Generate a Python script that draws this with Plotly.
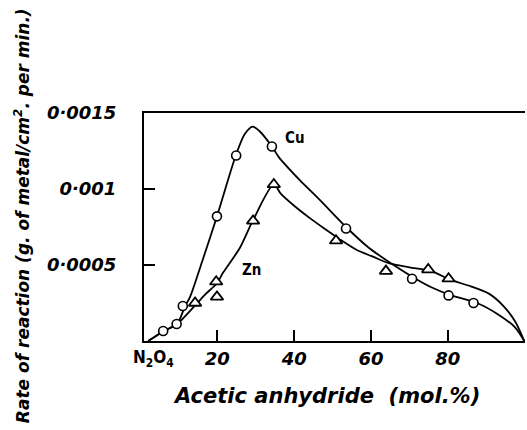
import plotly.graph_objects as go

# Measured points (Cu: circles, Zn: triangles)
cu_x = [5.9, 9.4, 11.0, 19.9, 24.9, 34.2, 53.5, 70.7, 80.2, 86.7]
cu_y = [0.000066, 0.000112, 0.00023, 0.00082, 0.00122, 0.00128, 0.00074, 0.00041, 0.00030, 0.00025]
zn_x = [14.2, 19.7, 19.9, 29.3, 34.7, 50.9, 63.9, 74.9, 80.2]
zn_y = [0.00025, 0.00039, 0.00029, 0.00079, 0.00103, 0.00066, 0.00046, 0.00047, 0.00041]

# Hand-drawn smooth curves
cu_curve_x = [2.0, 6.1, 9.5, 11.6, 12.9, 16.0, 19.9, 24.8, 27.1, 29.2, 31.0, 34.2, 36.0, 41.4, 46.6, 53.9, 59.6, 65.3, 71.6, 76.0, 80.9, 87.6, 93.4, 97.5, 99.9]
cu_curve_y = [0.0, 0.000066, 0.000112, 0.00023, 0.00029, 0.00052, 0.00082, 0.00122, 0.00136, 0.00141, 0.00138, 0.00128, 0.00121, 0.00106, 0.00093, 0.00074, 0.00061, 0.00051, 0.00041, 0.00035, 0.00030, 0.00025, 0.00017, 0.00009, 0.0]
zn_curve_x = [2.0, 6.1, 9.5, 14.4, 17.0, 19.9, 21.5, 25.8, 29.2, 34.7, 36.5, 40.0, 44.0, 48.4, 51.8, 56.2, 60.5, 64.8, 70.0, 75.7, 80.9, 86.0, 90.8, 94.5, 97.5, 99.9]
zn_curve_y = [0.0, 0.000066, 0.000112, 0.00024, 0.00031, 0.00038, 0.00045, 0.00061, 0.00079, 0.00103, 0.00097, 0.00089, 0.00081, 0.00073, 0.00067, 0.00060, 0.000555, 0.00051, 0.000485, 0.00046, 0.00040, 0.00036, 0.00031, 0.00023, 0.00013, 0.0]

x_tickvals = [20, 40, 60, 80]
x_ticktext = ["20", "40", "60", "80"]
y_tickvals = [0.0005, 0.001, 0.0015]
y_ticktext = ["0·0005", "0·001", "0·0015"]

FONT = "DejaVu Sans"
lab_font = dict(family=FONT, size=18, color="black", style="italic", weight="bold")

fig = go.Figure()
fig.add_trace(go.Scatter(x=cu_curve_x, y=cu_curve_y, mode="lines",
                         line=dict(color="black", width=1.8, shape="spline", smoothing=0.8),
                         hoverinfo="skip", showlegend=False))
fig.add_trace(go.Scatter(x=zn_curve_x, y=zn_curve_y, mode="lines",
                         line=dict(color="black", width=1.8, shape="spline", smoothing=0.8),
                         hoverinfo="skip", showlegend=False))
fig.add_trace(go.Scatter(x=cu_x, y=cu_y, mode="markers", name="Cu",
                         marker=dict(symbol="circle", size=9, color="white",
                                     line=dict(color="black", width=1.6)),
                         showlegend=False))
fig.add_trace(go.Scatter(x=zn_x, y=zn_y, mode="markers", name="Zn",
                         marker=dict(symbol="triangle-up", size=11, color="white",
                                     line=dict(color="black", width=1.8)),
                         showlegend=False))

fig.update_layout(
    width=527, height=430,
    margin=dict(l=144, r=2, t=113, b=89),
    paper_bgcolor="white", plot_bgcolor="white",
    xaxis=dict(range=[0.9, 100.1], showgrid=False, zeroline=False,
               showline=True, linecolor="black", linewidth=2, mirror=True,
               ticks="inside", ticklen=11, tickwidth=2, tickcolor="black",
               tickvals=x_tickvals, ticktext=x_ticktext, tickfont=lab_font),
    yaxis=dict(range=[0, 0.0015], showgrid=False, zeroline=False,
               showline=True, linecolor="black", linewidth=2,
               ticks="inside", ticklen=11, tickwidth=2, tickcolor="black",
               tickvals=y_tickvals, ticktext=y_ticktext, tickfont=lab_font,
               ticklabelstandoff=22),
    annotations=[
        dict(text="Cu", x=40.1, y=0.001336, xref="x", yref="y", showarrow=False,
             font=dict(family="DejaVu Sans Condensed", size=15, weight="bold", color="black")),
        dict(text="Zn", x=29.0, y=0.000467, xref="x", yref="y", showarrow=False,
             font=dict(family="DejaVu Sans Condensed", size=15, weight="bold", color="black")),
        dict(text="N<sub>2</sub>O<sub>4</sub>", x=3.5, y=-0.075, xref="x", yref="paper",
             showarrow=False, yanchor="middle",
             font=dict(family="DejaVu Sans Condensed", size=17, weight="bold", color="black")),
        dict(text="Acetic anhydride  (mol.%)", x=0.479, y=-0.24, xref="paper", yref="paper",
             xanchor="center", yanchor="middle", showarrow=False,
             font=dict(family=FONT, size=21, style="italic", weight="bold", color="black")),
        dict(text="Rate of reaction (g. of metal/cm<sup>2</sup>. per min.)", x=-0.32, y=0.548,
             xref="paper", yref="paper", xanchor="center", yanchor="middle",
             showarrow=False, textangle=-90,
             font=dict(family=FONT, size=17, style="italic", weight="bold", color="black")),
    ],
)

fig.write_html("out.html", config={"displayModeBar": False},
               post_script="document.body.style.margin='0';document.body.style.padding='0';")
